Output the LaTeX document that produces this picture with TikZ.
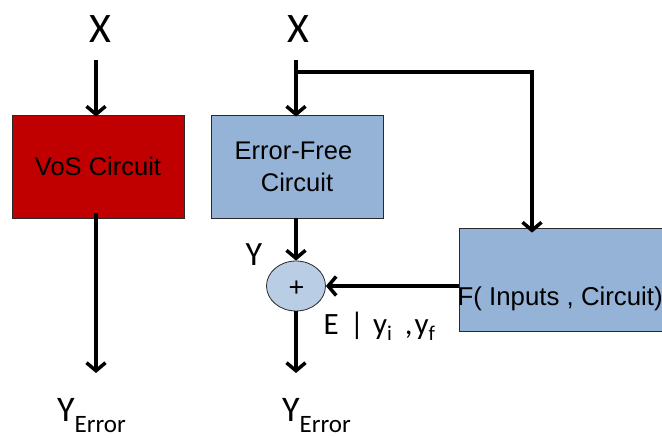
\documentclass[tikz,border=0pt]{standalone}
\usepackage{fontspec}
\setmainfont{Carlito}
\newfontfamily\arialfont{Liberation Sans}
\usetikzlibrary{arrows.meta,shapes.geometric}
\definecolor{vosred}{HTML}{C00000}
\definecolor{boxblue}{HTML}{95B3D7}
\definecolor{sumblue}{HTML}{B9CDE5}
\definecolor{edgegray}{HTML}{2A2A2A}
\newcommand\smallsub{\fontsize{21}{21}\selectfont}

\begin{document}
\begin{tikzpicture}[x=1pt,y=-1pt,
  block/.style={draw=edgegray, line width=0.8pt, rectangle, inner sep=0pt,
    minimum width=172pt, minimum height=103pt, align=center,
    font=\arialfont\fontsize{25.5}{32}\selectfont},
  flow/.style={line width=3.5pt, -{Straight Barb[length=8pt,width=19pt]}},
  bigsym/.style={inner sep=0pt, font=\fontsize{42}{42}\selectfont},
  outsym/.style={inner sep=0pt, font=\fontsize{36}{36}\selectfont},
  midsym/.style={inner sep=0pt, font=\fontsize{31}{31}\selectfont}
]
\useasboundingbox (0,0) rectangle (662,437);

% inputs
\node[bigsym, anchor=base] (xl) at (100,42) {X};
\node[bigsym, anchor=base] (xr) at (298,42) {X};
\coordinate (xlo) at (96,60);
\coordinate (xro) at (296,60);
\coordinate (tap) at (296,72);
\coordinate (turn) at (532,72);

% blocks
\node[block, fill=vosred] (vos) at (98,166.5) {VoS Circuit};
\node[block, fill=boxblue] (ef) at (297,166.5) {\hspace*{-7pt}Error-Free\\Circuit};
\node[block, fill=boxblue, minimum width=230pt] (fb) at (574,279.5) {};
\node[inner sep=0pt, anchor=base west, font=\arialfont\fontsize{25.8}{25.8}\selectfont]
  (ft) at (457.5,305) {F( Inputs , Circuit)};

% adder
\node[ellipse, draw=edgegray, line width=0.8pt, fill=sumblue, inner sep=0pt,
  minimum width=59pt, minimum height=50pt] (sum) at (296,286) {};
\node[inner sep=0pt, font=\arialfont\fontsize{27}{27}\selectfont] (plus) at (296.5,289) {+};

% outputs
\coordinate (yl) at (96,373);
\coordinate (yr) at (296,373);
\node[outsym, anchor=base west] (outl) at (57,421)
  {Y\raisebox{-11pt}{\fontsize{25}{25}\selectfont Error}};
\node[outsym, anchor=base west] (outr) at (282,421)
  {Y\raisebox{-11pt}{\fontsize{25}{25}\selectfont Error}};

% labels at the adder
\node[inner sep=0pt, font=\fontsize{34}{34}\selectfont, anchor=base] (ylab) at (254,265) {Y};
\node[midsym, anchor=base west] (elab) at (323.5,334)
  {E\hspace{11pt}|\hspace{9pt}y\raisebox{-6pt}{\smallsub i}\hspace{13pt},\hspace{2pt}y\raisebox{-6pt}{\smallsub f}};

% connectors
\draw[flow] (xlo) -- ([yshift=-2pt]xlo |- vos.north);
\draw[flow] (xro) -- ([yshift=-2pt]xro |- ef.north);
\draw[flow] (tap) -- (turn) -- ([yshift=-5pt]turn |- fb.north);
\draw[flow] ([yshift=5pt]yl |- vos.south) -- (yl);
\draw[flow] (ef.south -| sum) -- (sum.north);
\draw[flow] (fb.west |- sum) -- (sum.east);
\draw[flow] (sum.south) -- (yr);
\end{tikzpicture}
\end{document}
